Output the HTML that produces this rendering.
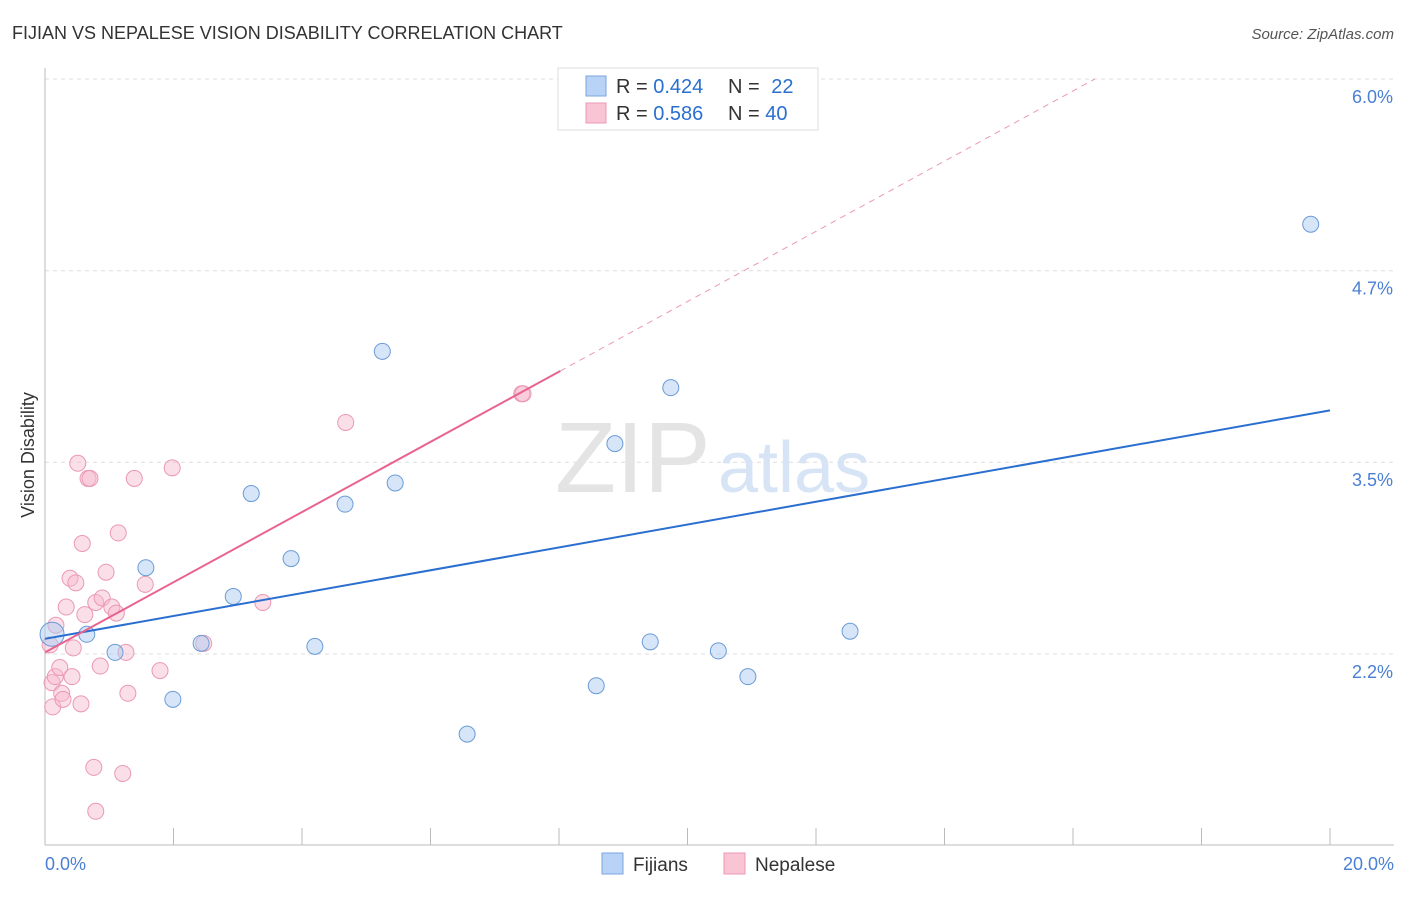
<!DOCTYPE html>
<html><head><meta charset="utf-8"><style>
body{margin:0;background:#fff;font-family:"Liberation Sans",sans-serif}
svg text{font-family:"Liberation Sans",sans-serif}
</style></head><body>
<svg width="1406" height="892" xmlns="http://www.w3.org/2000/svg" id="chart">
<text x="12" y="39" font-size="18" fill="#333">FIJIAN VS NEPALESE VISION DISABILITY CORRELATION CHART</text>
<text x="1394" y="39" font-size="15" fill="#555" font-style="italic" text-anchor="end">Source: ZipAtlas.com</text>
<g id="grid"></g>
<text x="555" y="492" font-size="100" fill="#e4e4e4" font-family="Liberation Serif">ZIP</text>
<text x="718" y="492" font-size="72" fill="#d6e4f5">atlas</text>
<line x1="45" y1="68" x2="45" y2="845" stroke="#bbb"/>
<line x1="45" y1="845" x2="1394" y2="845" stroke="#bbb"/>
<g id="xticks"></g>
<text transform="translate(34,455) rotate(-90)" font-size="18" fill="#333" text-anchor="middle">Vision Disability</text>
<text x="45" y="870" font-size="18" fill="#4a7fd4">0.0%</text>
<text x="1394" y="870" font-size="18" fill="#4a7fd4" text-anchor="end">20.0%</text>
<g id="pts"></g>
<g id="lines"></g>
<g>
<rect x="558" y="68" width="260" height="62" fill="#fff" stroke="#ddd"/>
<rect x="586" y="76" width="20" height="20" fill="#b8d3f5" stroke="#7aa6e0"/>
<rect x="586" y="103" width="20" height="20" fill="#f9c4d4" stroke="#eb98b4"/>
<text x="616" y="93" font-size="20" fill="#333">R = <tspan fill="#2a6fd0">0.424</tspan></text>
<text x="728" y="93" font-size="20" fill="#333">N = <tspan fill="#2a6fd0" dx="6">22</tspan></text>
<text x="616" y="120" font-size="20" fill="#333">R = <tspan fill="#2a6fd0">0.586</tspan></text>
<text x="728" y="120" font-size="20" fill="#333">N = <tspan fill="#2a6fd0">40</tspan></text>
</g>
<g>
<rect x="602" y="853" width="21" height="21" fill="#b8d3f5" stroke="#7aa6e0"/>
<text x="633" y="871" font-size="19" fill="#333">Fijians</text>
<rect x="724" y="853" width="21" height="21" fill="#f9c4d4" stroke="#eb98b4"/>
<text x="755" y="871" font-size="19" fill="#333">Nepalese</text>
</g>
</svg>
<script>
const yTickValues=[6.0,4.733,3.467,2.2];
const yTickLabels=["6.0%","4.7%","3.5%","2.2%"];
const xTickValues=[2,4,6,8,10,12,14,16,18,20];
const fijiX=[0.11,0.65,1.09,1.57,1.99,2.43,2.93,3.21,3.83,4.20,4.67,5.25,5.45,6.57,8.58,8.87,9.42,9.74,10.48,10.94,12.53,19.70];
const fijiY=[2.33,2.33,2.21,2.77,1.90,2.27,2.58,3.26,2.83,2.25,3.19,4.20,3.33,1.67,1.99,3.59,2.28,3.96,2.22,2.05,2.35,5.04];
const nepX=[0.08,0.11,0.12,0.17,0.16,0.23,0.26,0.28,0.33,0.39,0.44,0.42,0.48,0.51,0.58,0.56,0.62,0.67,0.70,0.76,0.79,0.79,0.86,0.89,0.95,1.04,1.11,1.14,1.21,1.26,1.29,1.39,1.56,1.79,1.98,2.47,3.39,4.68,7.42,7.44];
const nepY=[2.26,2.01,1.85,2.39,2.05,2.11,1.94,1.90,2.51,2.70,2.24,2.05,2.67,3.46,2.93,1.87,2.46,3.36,3.36,1.45,2.54,1.16,2.12,2.57,2.74,2.51,2.47,3.00,1.41,2.21,1.94,3.36,2.66,2.09,3.43,2.27,2.54,3.73,3.92,3.92];
const fijiLine=[[0,2.30],[20,3.81]];
const nepLine=[[0,2.21],[8.02,4.07]];
const nepDash=[[8.02,4.07],[16.34,6.0]];
const NS="http://www.w3.org/2000/svg";
const sx=v=>45+v*64.25;
const sy=v=>79+(6.0-v)*151.3;
function mk(tag,attrs,parent){const e=document.createElementNS(NS,tag);for(const k in attrs)e.setAttribute(k,attrs[k]);document.getElementById(parent).appendChild(e);return e;}
yTickValues.forEach((v,i)=>{
 const l=mk('line',{x1:45,x2:1394,y1:sy(v),y2:sy(v),stroke:'#ddd','stroke-dasharray':'4,4'},'grid');
 
 
 const t=mk('text',{x:1393,y:sy(v)+24,'font-size':18,fill:'#4a7fd4','text-anchor':'end'},'grid');
 t.textContent=yTickLabels[i];
 
 
});
xTickValues.forEach(v=>{
 const l=mk('line',{x1:sx(v),x2:sx(v),y1:828,y2:845,stroke:'#bbb'},'xticks');
 
 
});
nepX.forEach((x,i)=>{
 const c=mk('circle',{cx:sx(x),cy:sy(nepY[i]),r:8,fill:'rgba(247,185,204,0.45)',stroke:'#eb98b4','stroke-width':1},'pts');
 
 
});
fijiX.forEach((x,i)=>{
 const c=mk('circle',{cx:sx(x),cy:sy(fijiY[i]),r:i===0?12:8,fill:'rgba(174,203,240,0.5)',stroke:'#6a9bd8','stroke-width':1},'pts');
 
 
});
const bl=mk('line',{x1:sx(fijiLine[0][0]),y1:sy(fijiLine[0][1]),x2:sx(fijiLine[1][0]),y2:sy(fijiLine[1][1]),stroke:'#2a6fd0','stroke-width':2},'lines');


const pl=mk('line',{x1:sx(nepLine[0][0]),y1:sy(nepLine[0][1]),x2:sx(nepLine[1][0]),y2:sy(nepLine[1][1]),stroke:'#e8648f','stroke-width':2},'lines');


const pd=mk('line',{x1:sx(nepDash[0][0]),y1:sy(nepDash[0][1]),x2:sx(nepDash[1][0]),y2:sy(nepDash[1][1]),stroke:'#eb98b4','stroke-width':1,'stroke-dasharray':'6,5'},'lines');


</script>
</body></html>
